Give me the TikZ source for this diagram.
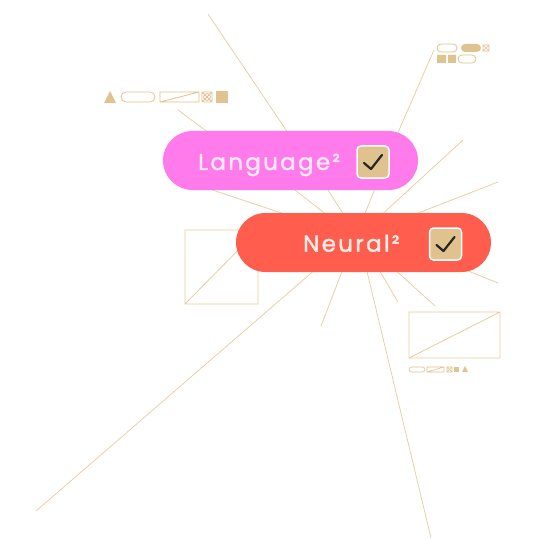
\documentclass[tikz,border=0pt]{standalone}
\usepackage{fontspec}
\usepackage{tikz}
\usetikzlibrary{calc,backgrounds}
\newfontfamily\pillfont[LetterSpace=10,FakeBold=1.6]{Poppins}
\definecolor{langpink}{HTML}{FF7AEA}
\definecolor{neuralred}{HTML}{FF5E4F}
\definecolor{tickfill}{HTML}{DFC28E}
\definecolor{rayline}{HTML}{E6CC9E}
\definecolor{iconcol}{HTML}{E0C390}
\definecolor{langtxt}{HTML}{FDE8F8}
\definecolor{neuraltxt}{HTML}{FFEDE6}

\begin{document}
\begin{tikzpicture}[x=1pt,y=-1pt,
  ray/.style={draw=rayline,line width=0.7pt},
  pill/.style={rectangle,rounded corners=29.5pt,minimum width=255,minimum height=59,inner sep=0pt,outer sep=0pt},
  pilltext/.style={anchor=base west,inner sep=0pt,font=\pillfont\fontsize{23}{27}\selectfont},
  tickbox/.style={rectangle,rounded corners=4pt,minimum size=32,fill=tickfill,draw=white,line width=1.5pt},
  tick/.style={draw=black!85,line width=2.2pt,line cap=round,line join=round},
  iconline/.style={draw=iconcol,line width=0.8pt},
  iconfill/.style={fill=iconcol}]
  % Pills
  \node[pill,fill=langpink] (lang) at (290.5,160.5) {};
  \node[pilltext,text=langtxt] (langtext) at (198,170) {Language²};
  \node[tickbox] (langbox) at (373,162) {};
  \draw[tick] ($(langbox)+(-9,1)$) -- ($(langbox)+(-2,7)$) -- ($(langbox)+(9,-7)$);
  %
  \node[pill,fill=neuralred] (neural) at (363.5,242.5) {};
  \node[pilltext,text=neuraltxt] (neuraltext) at (303,251.7) {Neural²};
  \node[tickbox] (neuralbox) at (445.5,244) {};
  \draw[tick] ($(neuralbox)+(-9,1)$) -- ($(neuralbox)+(-2,7)$) -- ($(neuralbox)+(9,-7)$);
  %
  % Free ends of the rays
  \coordinate (t1) at (208,14);
  \coordinate (t2) at (178,110);
  \coordinate (t3) at (434,50);
  \coordinate (t4) at (463,140);
  \coordinate (t5) at (498,182);
  \coordinate (t7) at (498,283);
  \coordinate (t8) at (435,306);
  \coordinate (t9) at (398,302);
  \coordinate (t10) at (431,538);
  \coordinate (t11) at (321,326);
  \coordinate (t12) at (36,511);
  %
  \begin{pgfonlayer}{background}
    \fill[white] (0,0) rectangle (540,540);
    % Rays
    \draw[ray] (t1) -- ($(lang)+(-3.5,-29)$);
    \draw[ray] (t2) -- ($(lang)+(-83.5,-29)$);
    \draw[ray] (t3) -- ($(lang)+(107.5,-28)$);
    \draw[ray] (t4) -- ($(neural)+(19.5,-29)$);
    \draw[ray] (t5) -- ($(neural)+(53.5,-29)$);
    \foreach \a/\b in {-82.5/-80.5, 2.5/-38.5, 36.5/-20.5, 84.5/1.5}
      \draw[ray] ($(lang)+(\a,28)$) -- ($(neural)+(\b,-29)$);
    \draw[ray] (t7) -- ($(neural)+(103.5,28)$);
    \draw[ray] (t8) -- ($(neural)+(33.5,29)$);
    \draw[ray] (t9) -- ($(neural)+(16.5,29)$);
    \draw[ray] (t10) -- ($(neural)+(3.5,29)$);
    \draw[ray] (t11) -- ($(neural)+(-21.5,29)$);
    \draw[ray] (t12) -- ($(neural)+(-50.5,29)$);
    %
    % Wireframe boxes
    \draw[iconline,draw=rayline] (185,230) rectangle (258,304) (185,304) -- (258,230);
    \draw[iconline,draw=rayline] (409,312) rectangle (500,358) (409,358) -- (500,312);
  \end{pgfonlayer}
  %
  % Icons, top left
  \fill[iconfill] (104,103) -- (116,103) -- (110,91) -- cycle;
  \draw[iconline,rounded corners=5pt] (121,92) rectangle (155,102);
  \draw[iconline] (160,92) rectangle (199,102) (160,102) -- (199,92);
  \draw[iconline] (202,92) rectangle (212,102) (207,97) circle [radius=3.5]
    (202,92) -- (212,102) (202,102) -- (212,92);
  \fill[iconfill] (216,91) rectangle (228,103);
  %
  % Icons, top right
  \draw[iconline,rounded corners=4pt] (437,44) rectangle (457,52);
  \fill[iconfill,rounded corners=4pt] (461,44) rectangle (481,52);
  \draw[iconline,line width=0.6pt] (483,45) rectangle (489,51) (483,45) -- (489,51) (483,51) -- (489,45);
  \fill[iconfill] (437,55) rectangle (446,63) (448,55) rectangle (456,63);
  \draw[iconline,rounded corners=4pt] (458,55) rectangle (476,63);
  %
  % Icons, bottom right
  \draw[iconline,line width=0.6pt,rounded corners=2.5pt] (409,367) rectangle (425,372);
  \draw[iconline,line width=0.6pt] (427,367) rectangle (444,372) (427,372) -- (444,367);
  \draw[iconline,line width=0.6pt] (447,367) rectangle (452,372) (447,367) -- (452,372) (447,372) -- (452,367);
  \fill[iconfill] (454,367) rectangle (459,372);
  \fill[iconfill] (462,372) -- (468,372) -- (465,366) -- cycle;
\end{tikzpicture}
\end{document}
